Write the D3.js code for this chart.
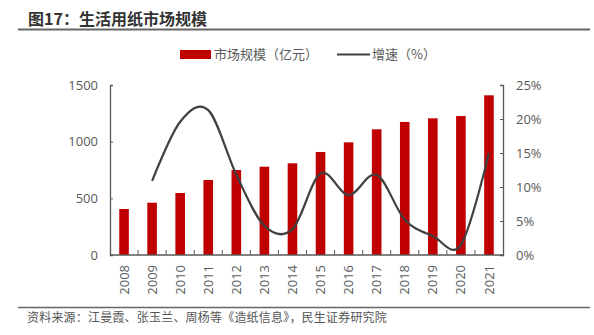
<!DOCTYPE html>
<html><head><meta charset="utf-8">
<script src="https://cdn.jsdelivr.net/npm/d3@7"></script>
<style>
body{margin:0;background:#fff;}
svg text{font-family:"Noto Sans CJK SC","Open Sans",sans-serif;}
</style></head>
<body><svg id="c" width="594" height="335"></svg>
<script>
const years = ["2008","2009","2010","2011","2012","2013","2014","2015","2016","2017","2018","2019","2020","2021"];
const marketSize = [406,461,547,662,750,779,809,909,994,1109,1174,1206,1226,1409];
const growth = [null,10.9,19.6,21.3,11.8,4.3,3.8,12.0,8.8,11.8,5.2,2.8,1.5,15.0];
const leftTicks = [0,500,1000,1500];
const rightTicks = [0,5,10,15,20,25];

const svg = d3.select("#c");
const m = {l:110, r:503, t:85, b:255};
const xb = d3.scaleBand().domain(years).range([m.l, m.r]);
const yL = d3.scaleLinear().domain([0,1500]).range([m.b, m.t]);
const yR = d3.scaleLinear().domain([0,25]).range([m.b, m.t]);
const gray = "#595959";

// title
svg.append("text").attr("x",28).attr("y",25).attr("font-size",16).attr("font-weight","bold").attr("fill","#333").text("图17：生活用纸市场规模");
svg.append("line").attr("x1",18).attr("x2",590).attr("y1",29.5).attr("y2",29.5).attr("stroke","#666").attr("stroke-width",2);

// bars
svg.append("g").selectAll("rect").data(years).join("rect")
  .attr("x", d=>xb(d)+xb.bandwidth()/2-4.8).attr("width",9.6)
  .attr("y", (d,i)=>yL(marketSize[i])).attr("height",(d,i)=>m.b-yL(marketSize[i]))
  .attr("fill","#C00000");

// line
const pts = years.map((d,i)=>[xb(d)+xb.bandwidth()/2, growth[i]]).filter(p=>p[1]!=null);
svg.append("path").datum(pts)
  .attr("d", d3.line().x(p=>p[0]).y(p=>yR(p[1])).curve(d3.curveCardinal.tension(0)))
  .attr("fill","none").attr("stroke","#404040").attr("stroke-width",2.2);

// left axis
const gL = svg.append("g").attr("transform",`translate(${m.l},0)`)
  .call(d3.axisLeft(yL).tickValues(leftTicks).tickSize(-3).tickPadding(12).tickFormat(d3.format("d")));
// right axis
const gR = svg.append("g").attr("transform",`translate(${m.r},0)`)
  .call(d3.axisRight(yR).tickValues(rightTicks).tickSize(-3).tickPadding(13).tickFormat(d=>d+"%"));
// bottom axis
const gB = svg.append("g").attr("transform",`translate(0,${m.b})`)
  .call(d3.axisBottom(xb).tickSize(0).tickPadding(0));
gB.selectAll(".tick text").attr("transform","rotate(-90)").attr("text-anchor","end")
  .attr("x",-10).attr("y",0).attr("dy","0.35em");
// category separator ticks
svg.append("g").selectAll("line").data(years.slice(1)).join("line")
  .attr("x1",d=>xb(d)).attr("x2",d=>xb(d)).attr("y1",m.b).attr("y2",m.b-5)
  .attr("stroke",gray).attr("stroke-width",1);

[gL,gR,gB].forEach(g=>{
  g.select(".domain").attr("stroke",gray).attr("stroke-width",1.3);
  g.selectAll(".tick line").attr("stroke",gray);
  g.selectAll(".tick text").attr("fill",gray).attr("font-size",13).style("font-family","'Open Sans','Noto Sans',sans-serif");
});
gB.select(".domain").attr("d",`M${m.l},0H${m.r}`);

// legend
const lg = svg.append("g");
lg.append("rect").attr("x",180).attr("y",50).attr("width",31).attr("height",9).attr("fill","#C00000");
lg.append("text").attr("x",214).attr("y",59).attr("font-size",13).attr("fill",gray).text("市场规模（亿元）");
lg.append("line").attr("x1",337).attr("x2",370).attr("y1",54.5).attr("y2",54.5).attr("stroke","#404040").attr("stroke-width",2.2);
lg.append("text").attr("x",372).attr("y",59).attr("font-size",13).attr("fill",gray).text("增速（%）");

// footer
svg.append("line").attr("x1",18).attr("x2",590).attr("y1",307.5).attr("y2",307.5).attr("stroke","#666").attr("stroke-width",1.5);
svg.append("text").attr("x",27).attr("y",322).attr("font-size",12).attr("letter-spacing",0.2).attr("fill","#555").text("资料来源：江曼霞、张玉兰、周杨等《造纸信息》，民生证券研究院");
</script></body></html>
